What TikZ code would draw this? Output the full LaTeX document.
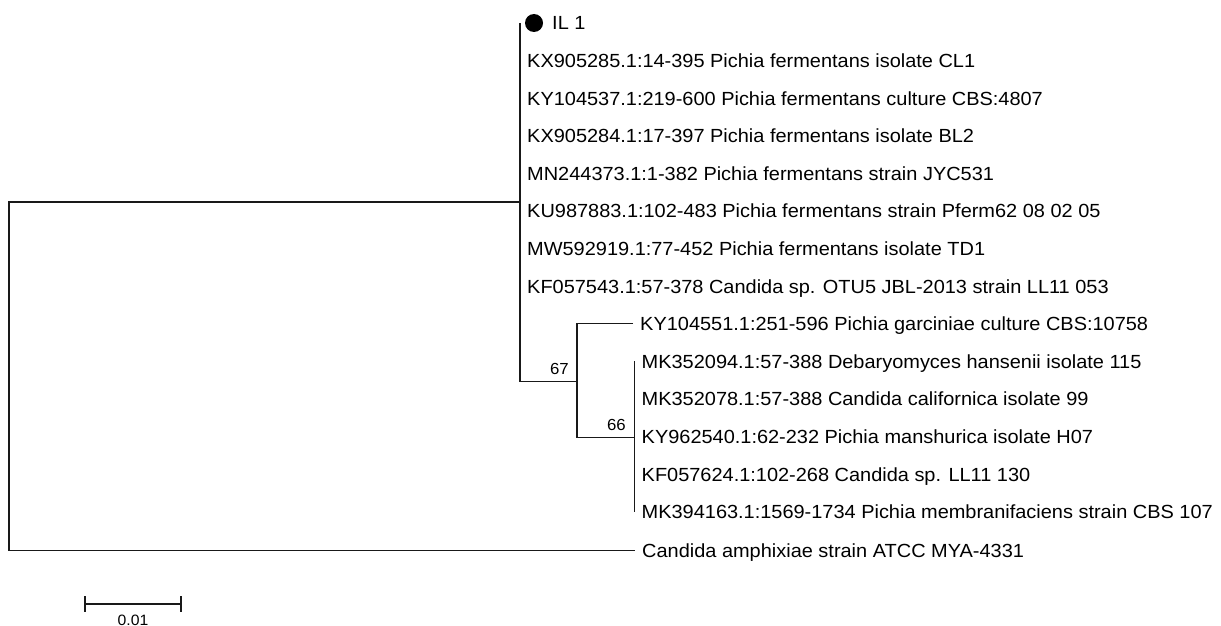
\documentclass[tikz,border=0pt]{standalone}
\usepackage{fontspec}
\setmainfont[FakeStretch=1.05]{Liberation Sans}
\usepackage{tikz}

\begin{document}
\begin{tikzpicture}[x=1pt,y=-1pt,
  branch/.style={line width=1.3pt,black!90},
  leaf/.style={anchor=west,inner xsep=7pt,inner ysep=0pt,text height=13.6pt,text depth=0pt,font=\fontsize{19}{22}\selectfont},
  boot/.style={anchor=base east,inner sep=0pt,font=\fontsize{16}{19}\selectfont},
  scalebar/.style={line width=2.8pt,black!90}]
  \useasboundingbox (0,0) rectangle (1221,626);
  % main clade: tips with zero length on one vertical
  \coordinate (top) at (520,23);
  \node[circle,fill=black,minimum size=18pt,inner sep=0pt] (dot) at (534,23) {};
  \node[leaf] (l0) at (545,23) {IL 1};
  \foreach \i/\t in {1/{KX905285.1:14-395 Pichia fermentans isolate CL1},
                     2/{KY104537.1:219-600 Pichia fermentans culture CBS:4807},
                     3/{KX905284.1:17-397 Pichia fermentans isolate BL2},
                     4/{MN244373.1:1-382 Pichia fermentans strain JYC531},
                     5/{KU987883.1:102-483 Pichia fermentans strain Pferm62 08 02 05},
                     6/{MW592919.1:77-452 Pichia fermentans isolate TD1},
                     7/{KF057543.1:57-378 Candida sp. OTU5 JBL-2013 strain LL11 053}}
    \node[leaf] (l\i) at (520,23+37.6*\i) {\t};
  % subclade with support 67 / 66
  \node[leaf] (l8) at (633,23+37.6*8) {KY104551.1:251-596 Pichia garciniae culture CBS:10758};
  \foreach \i/\t in {9/{MK352094.1:57-388 Debaryomyces hansenii isolate 115},
                     10/{MK352078.1:57-388 Candida californica isolate 99},
                     11/{KY962540.1:62-232 Pichia manshurica isolate H07},
                     12/{KF057624.1:102-268 Candida sp. LL11 130},
                     13/{MK394163.1:1569-1734 Pichia membranifaciens strain CBS 107}}
    \node[leaf] (l\i) at (634.5,23+37.6*\i) {\t};
  % outgroup
  \node[leaf] (l14) at (635,550.4) {Candida amphixiae strain ATCC MYA-4331};
  \coordinate (n66) at (634.5,437.6);
  \coordinate (n67) at (577,381.2);
  \coordinate (nA) at (520,202.1);
  \coordinate (root) at (9,376.2);
  \draw[branch] (l9.west) -- (l13.west);
  \draw[branch] (l8.west) -| (n67) |- (n66);
  \draw[branch] (top) |- (n67);
  \draw[branch] (nA) -| (root) |- (l14.west);
  \node[boot] (b67) at ([xshift=-8pt,yshift=7pt]n67) {67};
  \node[boot] (b66) at ([xshift=-8.5pt,yshift=7.6pt]n66) {66};
  % scale bar
  \coordinate (sbl) at (85,604);
  \coordinate (sbr) at (181,604);
  \draw[scalebar] (sbl) -- (sbr);
  \draw[scalebar] ([yshift=8pt]sbl) -- ([yshift=-8pt]sbl);
  \draw[scalebar] ([yshift=8pt]sbr) -- ([yshift=-8pt]sbr);
  \node[boot,anchor=base,font=\fontsize{15}{18}\selectfont] (sblab) at (133,625) {0.01};
\end{tikzpicture}
\end{document}
